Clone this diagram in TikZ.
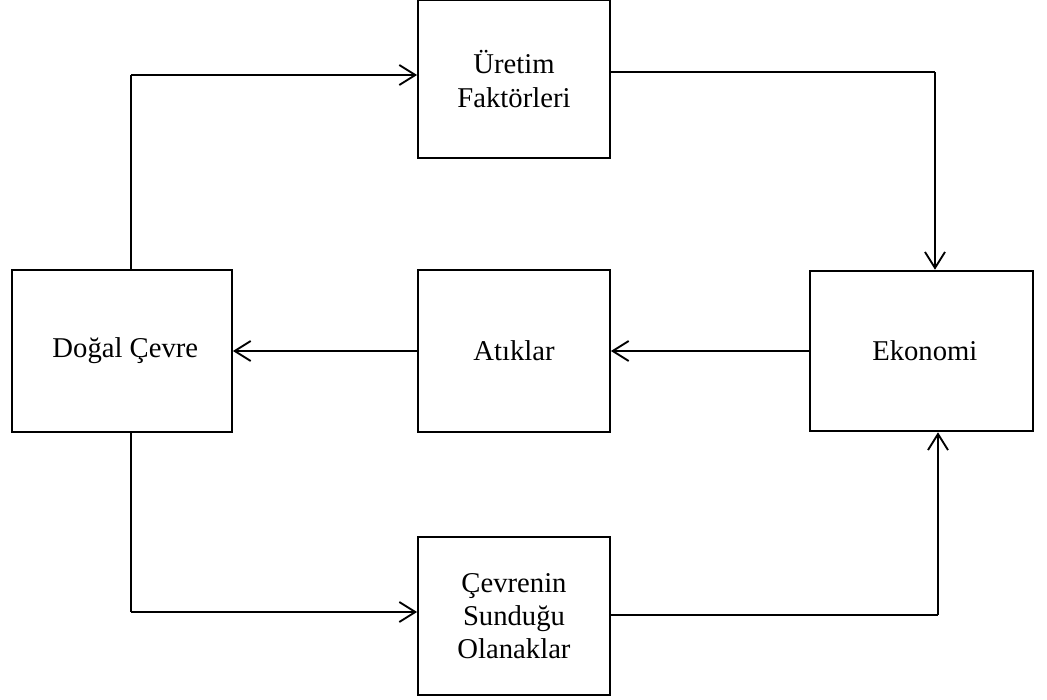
\documentclass[tikz,border=0pt]{standalone}
\usepackage{fontspec}
\setmainfont{Liberation Serif}
\usetikzlibrary{arrows.meta, positioning, calc}

\begin{document}
\begin{tikzpicture}[
      x=0.75pt, y=-0.75pt,
      kutu/.style={rectangle, draw=black, line width=1.4pt, minimum width=144pt, minimum height=118pt, align=center, inner sep=0pt, font=\fontsize{21.5}{25}\selectfont},
      okbag/.style={-{Straight Barb[length=12pt, width=15pt, line width=1.4pt]}, line width=1.4pt},
      ince/.style={line width=0.8pt}
    ]
      \useasboundingbox (0,0) rectangle (1047,700);

      \node[kutu] (uretim) at (514, 79) {Üretim\\Faktörleri};
      \node[kutu, minimum width=165pt, minimum height=121pt] (dogal) at (122, 351) {\hspace*{5pt}Doğal Çevre};
      \node[kutu, minimum height=121pt] (atik) at (514, 351) {Atıklar};
      \node[kutu, line width=1.9pt, minimum width=167pt, minimum height=120pt] (ekonomi) at (921.5, 351) {\hspace*{5pt}Ekonomi};
      \node[kutu] (sunulan) at (514, 616) {Çevrenin\\Sunduğu\\Olanaklar};

      \coordinate (k1) at (131, 75);
      \coordinate (k2) at (935, 72);
      \coordinate (k3) at (131, 612);
      \coordinate (k4) at (938, 615);

      % ust dongu
      \draw[ince] (dogal.north -| k1) -- (k1);
      \draw[okbag] (k1) -- (k1 -| uretim.west);
      \draw[ince] (uretim.east |- k2) -- (k2);
      \draw[okbag] (k2) -- (k2 |- ekonomi.north);

      % orta
      \draw[okbag] (ekonomi.west) -- (atik.east);
      \draw[okbag] (atik.west) -- (dogal.east);

      % alt dongu
      \draw[ince] (dogal.south -| k3) -- (k3);
      \draw[okbag] (k3) -- (k3 -| sunulan.west);
      \draw[ince] (sunulan.east |- k4) -- (k4);
      \draw[okbag] (k4) -- (k4 |- ekonomi.south);
    \end{tikzpicture}
\end{document}
